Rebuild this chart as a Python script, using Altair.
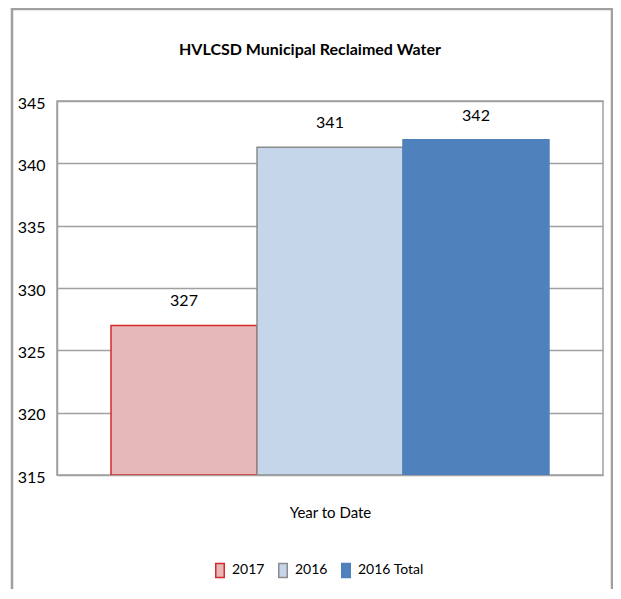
import altair as alt
import pandas as pd

series = ["2017", "2016", "2016 Total"]
values = [327.0, 341.3, 341.9]
fills = ["#E6B9B8", "#C6D6EA", "#4F81BD"]
strokes = ["#D42A2A", "#8C8C8C", "#4F81BD"]
y_ticks = [315, 320, 325, 330, 335, 340, 345]
y_min, y_max = 315, 345
title_text = "HVLCSD Municipal Reclaimed Water"
x_title = "Year to Date"

df = pd.DataFrame({"series": series, "value": values})
FONT = "Lato"
GRAY = "#A0A0A0"
KEY = "M-0.6,-1L0.6,-1L0.6,1L-0.6,1Z"

legend = alt.Legend(orient="none", legendX=155, legendY=461, direction="horizontal")

x = alt.X(
    "series:N",
    sort=series,
    scale=alt.Scale(paddingInner=0, paddingOuter=0.37),
    axis=alt.Axis(
        title=x_title, labels=False, ticks=False, domain=False, grid=False,
        titlePadding=30, titleFontSize=15, titleFontWeight="normal",
        titleFont=FONT, titleColor="#000000",
    ),
)
y = alt.Y(
    "value:Q",
    scale=alt.Scale(domain=[y_min, y_max], zero=False, nice=False),
    axis=alt.Axis(
        values=y_ticks, title=None, ticks=False, domain=True, domainColor=GRAY,
        domainWidth=1.5, grid=True, gridColor=GRAY, gridWidth=1.5,
        labelFont=FONT, labelFontSize=16, labelColor="#000000", labelPadding=12,
        labelBaseline="middle", labelOffset=2,
    ),
)

bars = alt.Chart(df).mark_bar(strokeWidth=1.5, clip=True).encode(
    x=x,
    y=y,
    y2=alt.datum(y_min),
    fill=alt.Fill("series:N", sort=series,
                  scale=alt.Scale(domain=series, range=fills), title=None,
                  legend=legend),
    stroke=alt.Stroke("series:N", sort=series,
                      scale=alt.Scale(domain=series, range=strokes), title=None,
                      legend=legend),
)

labels = alt.Chart(df).mark_text(
    dy=-16, baseline="bottom", font=FONT, fontSize=16, color="#000000"
).encode(
    x=alt.X("series:N", sort=series),
    y=alt.Y("value:Q"),
    text=alt.Text("value:Q", format=".0f"),
)

frame = alt.Chart(alt.Data(values=[{}])).mark_rect(
    filled=False, stroke=GRAY, strokeWidth=2.5
).encode(
    x=alt.value(-45), x2=alt.value(555), y=alt.value(-92), y2=alt.value(520)
)

chart = alt.layer(frame, bars, labels).properties(
    width=546,
    height=374,
    title=alt.TitleParams(
        title_text, fontSize=16, fontWeight="bold", font=FONT, color="#000000",
        dx=-20, offset=-50, anchor="middle", frame="group",
    ),
    padding={"left": 49, "top": 93, "right": 10, "bottom": 114},
    autosize=alt.AutoSizeParams(type="none"),
).configure_view(
    stroke=GRAY, strokeWidth=1.5
).configure_legend(
    symbolType=KEY, symbolSize=200, symbolStrokeWidth=1.5,
    labelFont=FONT, labelFontSize=14, labelColor="#000000", columnPadding=10,
    labelOffset=4,
)

chart.save("out.html", embed_options={"renderer": "svg", "actions": False})
